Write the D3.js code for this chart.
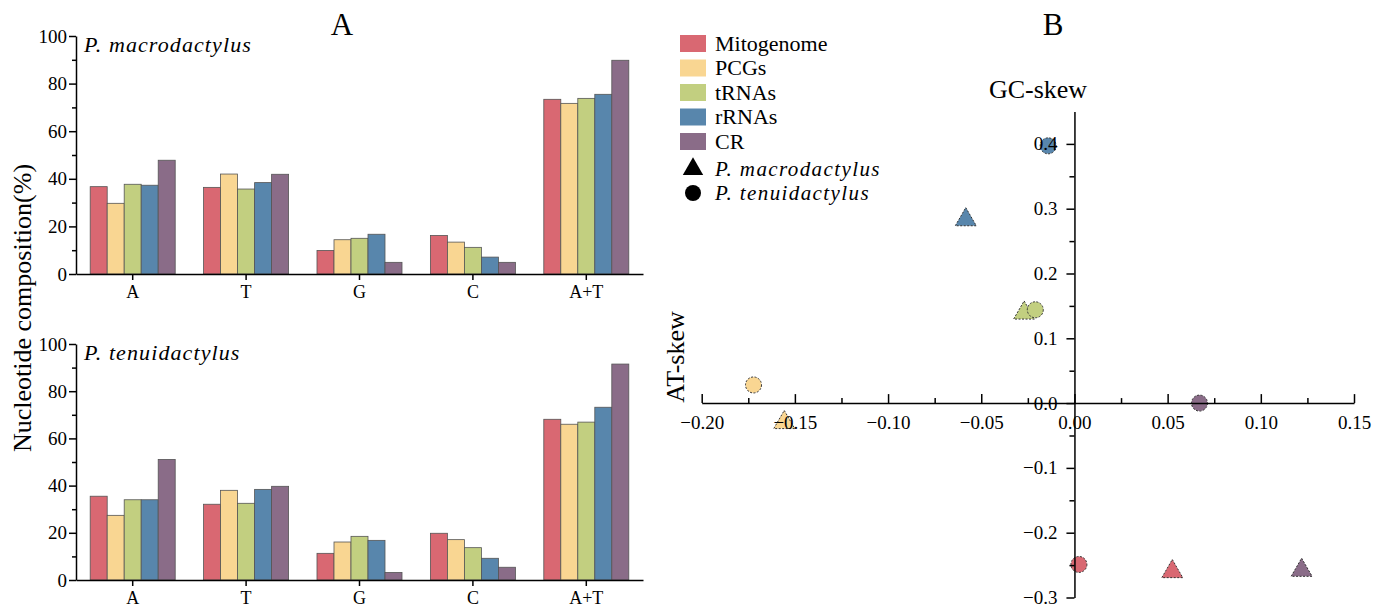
<!DOCTYPE html>
<html>
<head>
<meta charset="utf-8">
<script src="https://cdn.jsdelivr.net/npm/d3@7"></script>
<style>
  body { margin: 0; background: #fff; }
</style>
</head>
<body>
<svg id="chart" width="1386" height="607"></svg>
<script>
// categories
const bases = ["A", "T", "G", "C", "A+T"]
const regions = ["Mitogenome", "PCGs", "tRNAs", "rRNAs", "CR"]
const colors = ["#d96872", "#f9d692", "#c2cf80", "#5886ac", "#8a6c88"]

// nucleotide composition (%), one row per base, one column per region
const macroComp = [
  [36.7, 29.7, 37.7, 37.3, 47.8],
  [36.4, 42.0, 35.7, 38.4, 41.9],
  [9.9, 14.4, 15.0, 16.7, 4.9],
  [16.2, 13.4, 11.2, 7.1, 4.9],
  [73.4, 71.7, 73.8, 75.5, 89.8]
]
const tenuiComp = [
  [35.5, 27.4, 34.0, 34.0, 51.1],
  [32.1, 38.0, 32.5, 38.4, 39.7],
  [11.3, 16.1, 18.5, 16.8, 3.2],
  [19.8, 17.1, 13.7, 9.2, 5.4],
  [68.1, 66.0, 66.9, 73.2, 91.5]
]

// skews, one value per region
const macroAT = [0.0525, -0.1557, -0.027, -0.0583, 0.1219]
const macroGC = [-0.26, -0.03, 0.139, 0.283, -0.258]
const tenuiAT = [0.0024, -0.1722, -0.021, -0.0141, 0.0671]
const tenuiGC = [-0.249, 0.028, 0.144, 0.397, 0.0]

const serif = "'Liberation Serif', 'Times New Roman', serif"
const svg = d3.select("#chart")
svg.append("rect").attr("width", 1386).attr("height", 607).attr("fill", "#fff")

const x0 = d3.scaleBand().domain(bases).range([76, 643])
const x1 = d3.scaleBand().domain(regions).range([0, x0.bandwidth()]).paddingOuter(0.835)

function barPanel(comp, top, bottom, label) {
  const y = d3.scaleLinear().domain([0, 100]).range([bottom, top])
  const g = svg.append("g")

  const groups = g.selectAll(".grp")
    .data(comp)
    .enter()
    .append("g")
    .attr("transform", (d, i) => `translate(${x0(bases[i])},0)`)

  groups.selectAll("rect")
    .data(d => d)
    .enter()
    .append("rect")
    .attr("x", (d, j) => x1(regions[j]))
    .attr("width", x1.bandwidth())
    .attr("y", d => y(d))
    .attr("height", d => y(0) - y(d))
    .attr("fill", (d, j) => colors[j])
    .attr("stroke", "#555")
    .attr("stroke-width", 0.8)

  // minor ticks
  g.append("g")
    .attr("transform", "translate(76,0)")
    .call(d3.axisLeft(y).tickValues([10, 30, 50, 70, 90]).tickSize(4).tickFormat(""))
    .call(a => a.select(".domain").remove())

  g.append("g")
    .attr("transform", "translate(76,0)")
    .call(d3.axisLeft(y).tickValues([0, 20, 40, 60, 80, 100]).tickSize(7).tickSizeOuter(0).tickPadding(2))
    .call(a => a.selectAll("text").style("font-size", "19px"))

  g.append("g")
    .attr("transform", `translate(0,${bottom})`)
    .call(d3.axisBottom(x0).tickSize(6).tickSizeOuter(0).tickPadding(5))
    .call(a => a.selectAll("text").style("font-size", "18px"))

  g.selectAll(".domain, .tick line").attr("stroke", "#000").attr("stroke-width", 1.5)

  g.append("text")
    .attr("x", 84)
    .attr("y", top + 16)
    .style("font-size", "22px")
    .style("font-style", "italic")
    .style("letter-spacing", "1.1px")
    .text(label)
}

barPanel(macroComp, 36, 274, "P. macrodactylus")
barPanel(tenuiComp, 344, 580, "P. tenuidactylus")

svg.append("text")
  .attr("transform", "translate(31,308) rotate(-90)")
  .attr("text-anchor", "middle")
  .style("font-size", "26px")
  .text("Nucleotide composition(%)")

svg.append("text").attr("x", 342).attr("y", 35).attr("text-anchor", "middle")
  .style("font-size", "31px").text("A")
svg.append("text").attr("x", 1053).attr("y", 35).attr("text-anchor", "middle")
  .style("font-size", "31px").text("B")

// legend
const legend = svg.append("g")
regions.forEach((r, i) => {
  const cy = 43.5 + i * 24.5
  legend.append("rect").attr("x", 680).attr("y", cy - 8.5).attr("width", 26).attr("height", 17)
    .attr("fill", colors[i])
  legend.append("text").attr("x", 715).attr("y", cy + 7).style("font-size", "22px").text(r)
})
legend.append("path")
  .attr("d", d3.symbol(d3.symbolTriangle, 180)())
  .attr("transform", "translate(693,169)")
  .attr("fill", "#000")
legend.append("circle").attr("cx", 693).attr("cy", 193).attr("r", 8).attr("fill", "#000")
legend.append("text").attr("x", 715).attr("y", 176).style("font-size", "21px")
  .style("font-style", "italic").style("letter-spacing", "1.4px").text("P. macrodactylus")
legend.append("text").attr("x", 715).attr("y", 200).style("font-size", "21px")
  .style("font-style", "italic").style("letter-spacing", "1.4px").text("P. tenuidactylus")

// scatter
const sx = d3.scaleLinear().domain([-0.2, 0.15]).range([701.7, 1354])
const sy = d3.scaleLinear().domain([-0.3, 0.45]).range([597.5, 111.5])
const sg = svg.append("g")

sg.selectAll(".tri")
  .data(macroAT)
  .enter()
  .append("path")
  .attr("d", d3.symbol(d3.symbolTriangle, 190)())
  .attr("transform", (d, i) => `translate(${sx(d)},${sy(macroGC[i])})`)
  .attr("fill", (d, i) => colors[i])
  .attr("stroke", "#333")
  .attr("stroke-width", 1)
  .attr("stroke-dasharray", "2,1.5")

sg.selectAll(".dot")
  .data(tenuiAT)
  .enter()
  .append("circle")
  .attr("cx", d => sx(d))
  .attr("cy", (d, i) => sy(tenuiGC[i]))
  .attr("r", 8)
  .attr("fill", (d, i) => colors[i])
  .attr("stroke", "#333")
  .attr("stroke-width", 1)
  .attr("stroke-dasharray", "2,1.5")

const x0pos = sy(0)
const y0pos = sx(0)

sg.append("g")
  .attr("transform", `translate(0,${x0pos})`)
  .call(d3.axisBottom(sx).tickValues(d3.range(-0.175, 0.15, 0.05)).tickSize(-5).tickFormat(""))
  .call(a => a.select(".domain").remove())
sg.append("g")
  .attr("transform", `translate(0,${x0pos})`)
  .call(d3.axisBottom(sx).tickValues(d3.range(-0.2, 0.151, 0.05)).tickSize(-9).tickSizeOuter(0)
    .tickPadding(12).tickFormat(d3.format(".2f")))
  .call(a => a.selectAll("text").style("font-size", "19px"))

sg.append("g")
  .attr("transform", `translate(${y0pos},0)`)
  .call(d3.axisLeft(sy).tickValues(d3.range(-0.25, 0.45, 0.1)).tickSize(5).tickFormat(""))
  .call(a => a.select(".domain").remove())
sg.append("g")
  .attr("transform", `translate(${y0pos},0)`)
  .call(d3.axisLeft(sy).tickValues(d3.range(-0.3, 0.41, 0.1)).tickSize(8).tickSizeOuter(0)
    .tickPadding(9).tickFormat(d3.format(".1f")))
  .call(a => a.selectAll("text").style("font-size", "19px"))

sg.selectAll(".domain, .tick line").attr("stroke", "#000").attr("stroke-width", 1.5)

svg.append("text").attr("x", 1038).attr("y", 98).attr("text-anchor", "middle")
  .style("font-size", "26px").text("GC-skew")
svg.append("text")
  .attr("transform", "translate(684,357) rotate(-90)")
  .attr("text-anchor", "middle")
  .style("font-size", "26px")
  .text("AT-skew")

// one serif face for every label, axes included
svg.selectAll("g").attr("font-family", null)
svg.selectAll("text").style("font-family", serif).attr("fill", "#000")
</script>
</body>
</html>
